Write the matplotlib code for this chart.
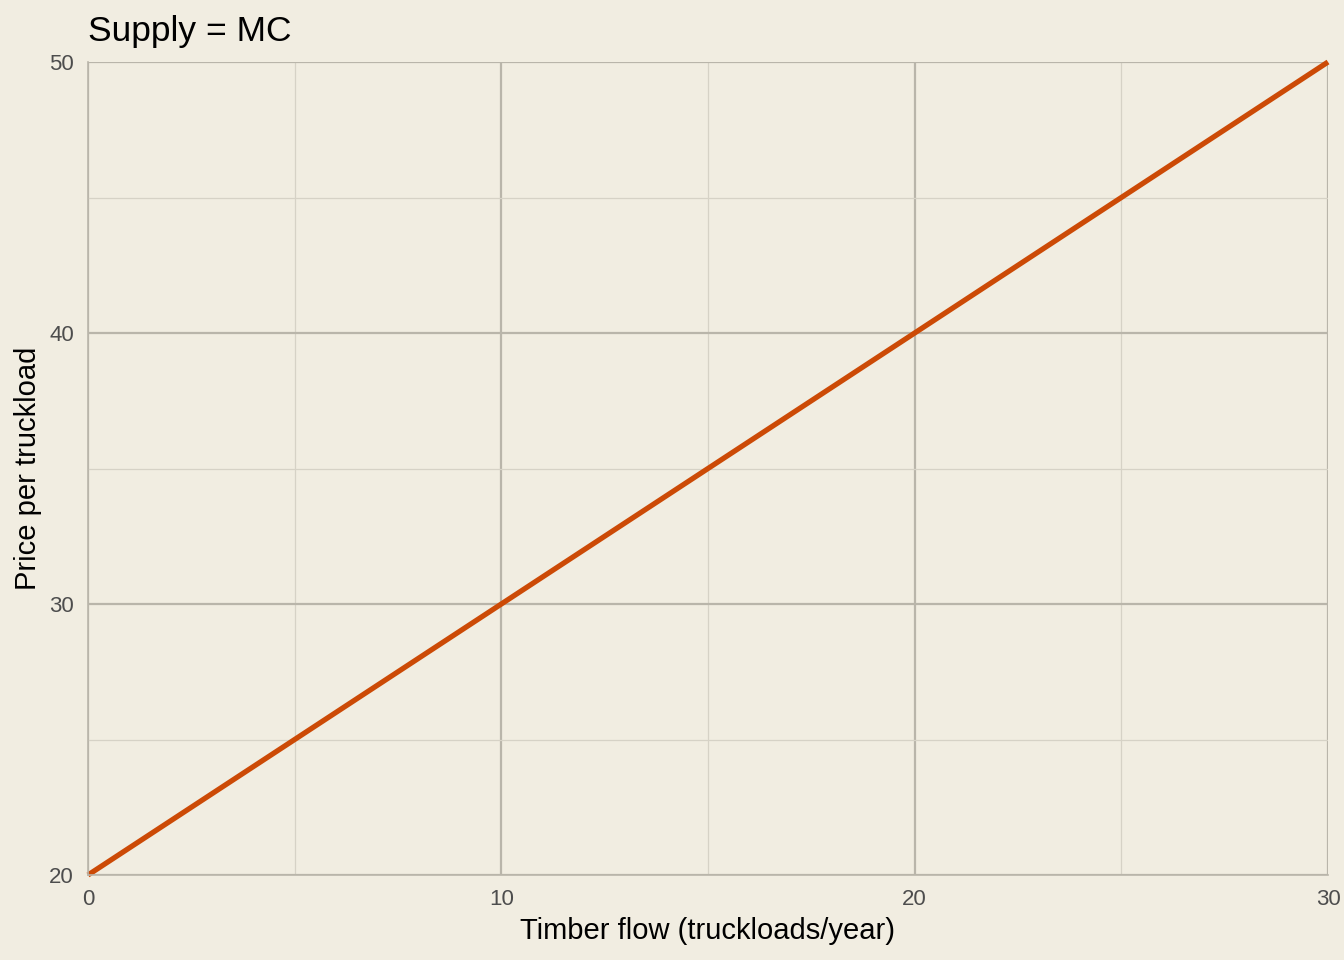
import matplotlib
matplotlib.use("Agg")
import matplotlib.pyplot as plt
from matplotlib.ticker import MultipleLocator

quantity = [0, 30]
price = [20, 50]
x_ticks = [0, 10, 20, 30]
y_ticks = [20, 30, 40, 50]

plt.rcParams['font.family'] = ['Liberation Sans', 'DejaVu Sans']
bg = '#F1EDE1'
fig = plt.figure(figsize=(13.44, 9.6), dpi=100, facecolor=bg)
ax = fig.add_axes([88/1344, 1-875/960, (1328-88)/1344, (875-62)/960])
ax.set_facecolor(bg)
ax.set_xlim(0, 30)
ax.set_ylim(20, 50)
ax.set_xticks(x_ticks)
ax.set_yticks(y_ticks)
ax.xaxis.set_minor_locator(MultipleLocator(5))
ax.yaxis.set_minor_locator(MultipleLocator(5))
ax.grid(which='major', color='#B9B5AA', linewidth=1.6)
ax.grid(which='minor', color='#D6D2C6', linewidth=0.9)
ax.set_axisbelow(True)
for s in ['top', 'right']:
    ax.spines[s].set_visible(False)
for s in ['left', 'bottom']:
    ax.spines[s].set_color('#B9B5AA')
    ax.spines[s].set_linewidth(1.2)
ax.tick_params(which='both', length=0, labelsize=16, labelcolor='#4D4D4D')
ax.tick_params(axis='x', pad=10)
ax.tick_params(axis='y', pad=10)
ax.plot(quantity, price, color='#CC4A06', linewidth=3.8, solid_capstyle='butt', clip_on=False)
ax.set_xlabel('Timber flow (truckloads/year)', fontsize=21, color='black', labelpad=5)
ax.set_ylabel('Price per truckload', fontsize=21, color='black', labelpad=5)
ax.set_title('Supply = MC', fontsize=25.5, loc='left', color='black', pad=15)
fig.savefig('out.png', dpi=100, facecolor=bg)
